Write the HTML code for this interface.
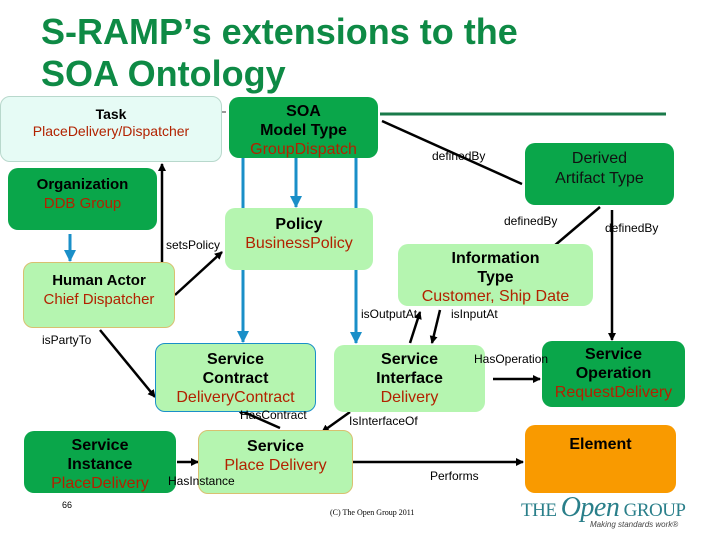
<!DOCTYPE html>
<html><head><meta charset="utf-8"><style>
body{margin:0;width:720px;height:540px;background:#fff;position:relative;overflow:hidden;font-family:"Liberation Sans",sans-serif}
.t{position:absolute;color:#0e8a45;font-weight:bold;font-size:36px;left:41px;line-height:40px}
.b{position:absolute;box-sizing:border-box;border-radius:10px;text-align:center;font-size:16px;line-height:19px;color:#000;padding-top:6px}
.b b{display:block}
.r{color:#b22200}
.d{background:#0aa64a}
.l{background:#b5f5b0}
.lab{position:absolute;font-size:12px;color:#000;white-space:nowrap}
svg{position:absolute;left:0;top:0}
</style></head><body>
<div class="t" style="top:12px">S-RAMP’s extensions to the</div>
<div class="t" style="top:54px">SOA Ontology</div>
<svg width="720" height="540">
<defs>
<marker id="a" markerWidth="8" markerHeight="8" refX="7" refY="4" orient="auto" markerUnits="userSpaceOnUse"><path d="M0,0L8,4L0,8z" fill="#000"/></marker>
<marker id="u" markerWidth="12" markerHeight="12" refX="11" refY="6" orient="auto" markerUnits="userSpaceOnUse"><path d="M0,0L12,6L0,12z" fill="#1a8fc8"/></marker>
</defs>
<line x1="380" y1="114" x2="666" y2="114" stroke="#1a7a4a" stroke-width="3"/>
<line x1="222" y1="112" x2="226" y2="112" stroke="#333" stroke-width="1"/>
<g stroke="#1a8fc8" stroke-width="3" fill="none">
<line x1="243" y1="158" x2="243" y2="342" marker-end="url(#u)"/>
<line x1="356" y1="158" x2="356" y2="343" marker-end="url(#u)"/>
<line x1="296" y1="158" x2="296" y2="207" marker-end="url(#u)"/>
<line x1="70" y1="234" x2="70" y2="261" marker-end="url(#u)"/>
</g>
<g stroke="#000" stroke-width="2.5" fill="none">
<line x1="162" y1="262" x2="162" y2="164" marker-end="url(#a)"/>
<line x1="175" y1="295" x2="222" y2="252" marker-end="url(#a)"/>
<line x1="382" y1="121" x2="522" y2="184" />
<line x1="600" y1="207" x2="547" y2="252" marker-end="url(#a)"/>
<line x1="612" y1="210" x2="612" y2="340" marker-end="url(#a)"/>
<line x1="410" y1="343" x2="420" y2="312" marker-end="url(#a)"/>
<line x1="440" y1="310" x2="432" y2="343" marker-end="url(#a)"/>
<line x1="100" y1="330" x2="155" y2="397" marker-end="url(#a)"/>
<line x1="493" y1="379" x2="540" y2="379" marker-end="url(#a)"/>
<line x1="280" y1="428" x2="237" y2="409" marker-end="url(#a)"/>
<line x1="350" y1="412" x2="322" y2="432" marker-end="url(#a)"/>
<line x1="177" y1="462" x2="198" y2="462" marker-end="url(#a)"/>
<line x1="353" y1="462" x2="523" y2="462" marker-end="url(#a)"/>
</g>
</svg>
<div class="b" style="left:0;top:96px;width:222px;height:66px;background:#e6fbf5;border:1px solid #b8d8cc;font-size:14px;line-height:17px;padding-top:9px"><b>Task</b><span class="r">PlaceDelivery/Dispatcher</span></div>
<div class="b d" style="left:229px;top:97px;width:149px;height:61px;padding-top:5px"><b>SOA<br>Model Type</b><span class="r">GroupDispatch</span></div>
<div class="b d" style="left:8px;top:168px;width:149px;height:62px;padding-top:7px;font-size:15px"><b>Organization</b><span class="r">DDB Group</span></div>
<div class="b l" style="left:23px;top:262px;width:152px;height:66px;border:1px solid #d8c070;font-size:15px;padding-top:8px"><b>Human Actor</b><span class="r">Chief Dispatcher</span></div>
<div class="b l" style="left:225px;top:208px;width:148px;height:62px;padding-top:7px"><b>Policy</b><span class="r">BusinessPolicy</span></div>
<div class="b d" style="left:525px;top:143px;width:149px;height:62px;padding-top:6px;line-height:20px;color:#111">Derived<br>Artifact Type</div>
<div class="b l" style="left:398px;top:244px;width:195px;height:62px;padding-top:5px;line-height:19px"><b>Information<br>Type</b><span class="r">Customer, Ship Date</span></div>
<div class="b l" style="left:155px;top:343px;width:161px;height:69px;border:1px solid #1a8fc8;padding-top:6px"><b>Service<br>Contract</b><span class="r">DeliveryContract</span></div>
<div class="b l" style="left:334px;top:345px;width:151px;height:67px;padding-top:5px"><b>Service<br>Interface</b><span class="r">Delivery</span></div>
<div class="b d" style="left:542px;top:341px;width:143px;height:66px;padding-top:4px"><b>Service<br>Operation</b><span class="r">RequestDelivery</span></div>
<div class="b d" style="left:24px;top:431px;width:152px;height:62px;padding-top:5px"><b>Service<br>Instance</b><span class="r">PlaceDelivery</span></div>
<div class="b l" style="left:198px;top:430px;width:155px;height:64px;border:1px solid #d8c070;padding-top:6px"><b>Service</b><span class="r">Place Delivery</span></div>
<div class="b" style="left:525px;top:425px;width:151px;height:68px;background:#f99a00;padding-top:10px"><b>Element</b></div>
<div class="lab" style="left:166px;top:238px">setsPolicy</div>
<div class="lab" style="left:432px;top:149px">definedBy</div>
<div class="lab" style="left:504px;top:214px">definedBy</div>
<div class="lab" style="left:605px;top:221px">definedBy</div>
<div class="lab" style="left:361px;top:307px">isOutputAt</div>
<div class="lab" style="left:451px;top:307px">isInputAt</div>
<div class="lab" style="left:42px;top:333px">isPartyTo</div>
<div class="lab" style="left:474px;top:352px">HasOperation</div>
<div class="lab" style="left:240px;top:408px">HasContract</div>
<div class="lab" style="left:349px;top:414px">IsInterfaceOf</div>
<div class="lab" style="left:168px;top:474px">HasInstance</div>
<div class="lab" style="left:430px;top:469px">Performs</div>
<div class="lab" style="left:62px;top:500px;font-size:9px">66</div>
<div class="lab" style="left:330px;top:508px;font-size:8px;font-family:'Liberation Serif',serif">(C) The Open Group 2011</div>
<div class="lab" style="left:521px;top:492px;font-size:19px;color:#2a7f8a;font-family:'Liberation Serif',serif;letter-spacing:-0.5px">THE <i style="font-size:28px">Open</i> GROUP</div>
<div class="lab" style="left:590px;top:520px;font-size:8px;font-style:italic;color:#444">Making standards work®</div>
</body></html>
